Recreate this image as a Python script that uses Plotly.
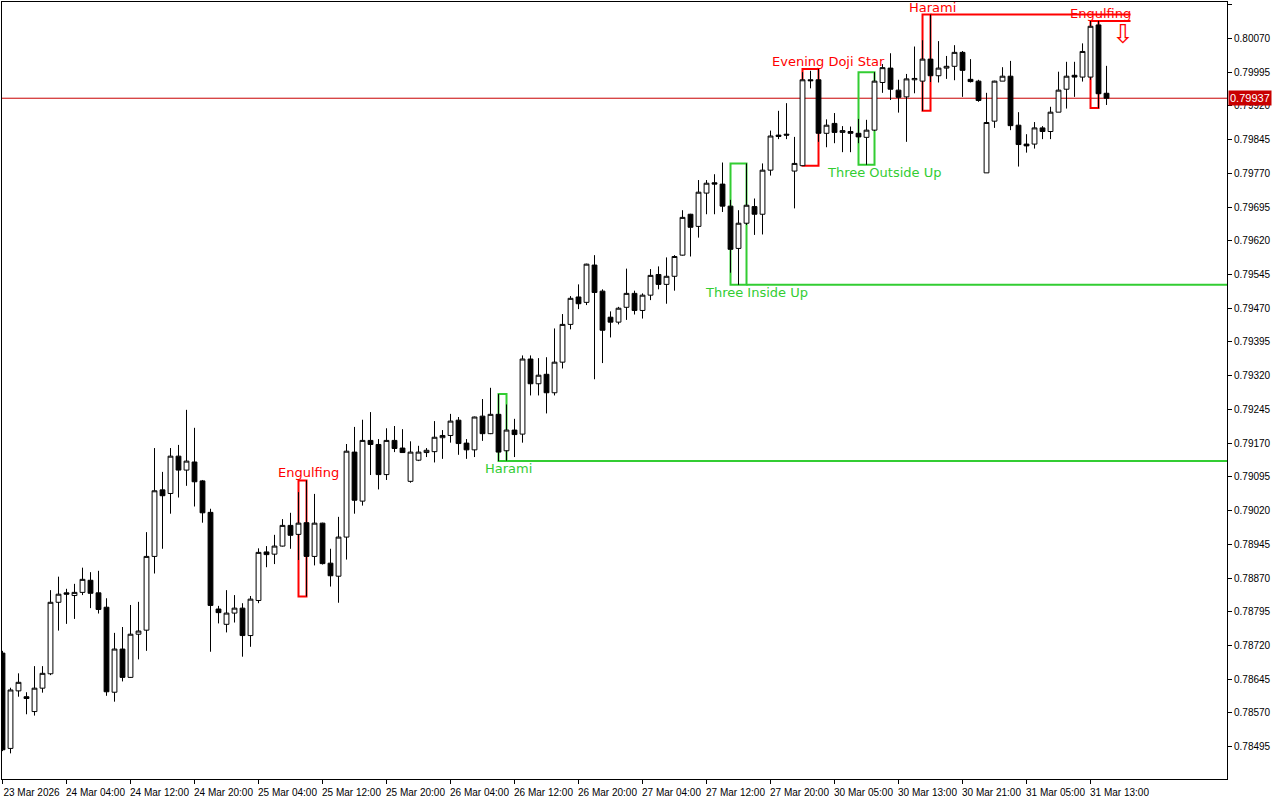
import plotly.graph_objects as go

# ---------------- data (H1 candles, 23 Mar 2026 20:00 -> 31 Mar 2026 15:00) ----------------
opens = [0.78703, 0.78491, 0.78619, 0.78606, 0.78573, 0.78625, 0.78657, 0.78816, 0.78837, 0.78831,
         0.78838, 0.78865, 0.78837, 0.78805, 0.78616, 0.78712, 0.78649, 0.78745, 0.78754, 0.78918,
         0.79066, 0.79058, 0.79141, 0.79110, 0.79128, 0.79086, 0.79016, 0.78801, 0.78767, 0.78792,
         0.78803, 0.78742, 0.78820, 0.78928, 0.78923, 0.78941, 0.78987, 0.78967, 0.78993, 0.78918,
         0.78992, 0.78903, 0.78874, 0.78961, 0.79150, 0.79041, 0.79176, 0.79167, 0.79100, 0.79176,
         0.79159, 0.79085, 0.79132, 0.79149, 0.79151, 0.79182, 0.79187, 0.79221, 0.79170, 0.79155,
         0.79230, 0.79191, 0.79234, 0.79153, 0.79199, 0.79190, 0.79357, 0.79302, 0.79323, 0.79282,
         0.79350, 0.79434, 0.79495, 0.79483, 0.79566, 0.79508, 0.79450, 0.79439, 0.79472, 0.79503,
         0.79465, 0.79499, 0.79545, 0.79523, 0.79541, 0.79588, 0.79679, 0.79652, 0.79726, 0.79749,
         0.79746, 0.79697, 0.79603, 0.79659, 0.79696, 0.79679, 0.79777, 0.79855, 0.79857, 0.79775,
         0.79787, 0.79978, 0.79978, 0.79859, 0.79881, 0.79861, 0.79863, 0.79859, 0.79850, 0.79866,
         0.79972, 0.80004, 0.79955, 0.79940, 0.79978, 0.79975, 0.80024, 0.79987, 0.80004, 0.80008,
         0.80039, 0.79979, 0.79975, 0.79771, 0.79886, 0.79975, 0.79986, 0.79877, 0.79835, 0.79835,
         0.79871, 0.79863, 0.79906, 0.79957, 0.79988, 0.79984, 0.79984, 0.80100, 0.79948]
highs = [0.78708, 0.78626, 0.78658, 0.78616, 0.78674, 0.78674, 0.78843, 0.78873, 0.78846, 0.78857,
         0.78893, 0.78883, 0.78886, 0.78825, 0.78748, 0.78761, 0.78810, 0.78817, 0.78972, 0.79159,
         0.79106, 0.79159, 0.79166, 0.79244, 0.79204, 0.79088, 0.79024, 0.78808, 0.78843, 0.78832,
         0.78814, 0.78830, 0.78936, 0.78941, 0.78966, 0.79001, 0.79015, 0.79061, 0.79087, 0.79057,
         0.78993, 0.78935, 0.79006, 0.79168, 0.79206, 0.79222, 0.79239, 0.79179, 0.79203, 0.79208,
         0.79201, 0.79174, 0.79164, 0.79159, 0.79219, 0.79199, 0.79235, 0.79228, 0.79179, 0.79229,
         0.79268, 0.79293, 0.79279, 0.79256, 0.79224, 0.79365, 0.79365, 0.79359, 0.79361, 0.79425,
         0.79457, 0.79497, 0.79523, 0.79569, 0.79588, 0.79512, 0.79463, 0.79473, 0.79558, 0.79509,
         0.79503, 0.79557, 0.79563, 0.79583, 0.79588, 0.79688, 0.79680, 0.79755, 0.79755, 0.79768,
         0.79794, 0.79711, 0.79688, 0.79792, 0.79714, 0.79792, 0.79865, 0.79909, 0.79926, 0.79851,
         0.79995, 0.79998, 0.80002, 0.79890, 0.79904, 0.79875, 0.79874, 0.79891, 0.79889, 0.79995,
         0.80013, 0.80037, 0.79978, 0.79991, 0.80052, 0.80066, 0.80123, 0.80064, 0.80031, 0.80055,
         0.80042, 0.80024, 0.79978, 0.79949, 0.79976, 0.80006, 0.80020, 0.79906, 0.79857, 0.79884,
         0.79875, 0.79918, 0.79996, 0.80018, 0.80018, 0.80059, 0.80109, 0.80109, 0.80009]
lows = [0.78485, 0.78480, 0.78606, 0.78567, 0.78564, 0.78615, 0.78654, 0.78753, 0.78768, 0.78779,
        0.78832, 0.78803, 0.78791, 0.78608, 0.78595, 0.78640, 0.78648, 0.78689, 0.78708, 0.78880,
        0.78935, 0.79013, 0.79049, 0.79075, 0.79029, 0.78993, 0.78706, 0.78769, 0.78749, 0.78771,
        0.78695, 0.78717, 0.78814, 0.78894, 0.78901, 0.78940, 0.78935, 0.78910, 0.78829, 0.78898,
        0.78900, 0.78851, 0.78815, 0.78911, 0.79013, 0.79031, 0.79099, 0.79067, 0.79088, 0.79150,
        0.79149, 0.79082, 0.79130, 0.79139, 0.79127, 0.79135, 0.79171, 0.79144, 0.79135, 0.79139,
        0.79175, 0.79190, 0.79130, 0.79131, 0.79139, 0.79171, 0.79276, 0.79276, 0.79236, 0.79276,
        0.79336, 0.79423, 0.79468, 0.79477, 0.79312, 0.79348, 0.79405, 0.79434, 0.79444, 0.79456,
        0.79447, 0.79488, 0.79512, 0.79480, 0.79509, 0.79587, 0.79585, 0.79627, 0.79679, 0.79679,
        0.79684, 0.79549, 0.79522, 0.79655, 0.79633, 0.79634, 0.79765, 0.79846, 0.79846, 0.79692,
        0.79787, 0.79959, 0.79840, 0.79828, 0.79837, 0.79817, 0.79817, 0.79837, 0.79789, 0.79864,
        0.79949, 0.79933, 0.79905, 0.79840, 0.79948, 0.79909, 0.79973, 0.79972, 0.79980, 0.79977,
        0.79940, 0.79972, 0.79929, 0.79771, 0.79871, 0.79975, 0.79866, 0.79785, 0.79816, 0.79825,
        0.79846, 0.79846, 0.79906, 0.79914, 0.79940, 0.79974, 0.79978, 0.79915, 0.79922]
closes = [0.78488, 0.78621, 0.78638, 0.78602, 0.78625, 0.78658, 0.78816, 0.78834, 0.78834, 0.78838,
          0.78867, 0.78836, 0.78800, 0.78617, 0.78712, 0.78649, 0.78745, 0.78752, 0.78918, 0.79064,
          0.79053, 0.79141, 0.79110, 0.79130, 0.79084, 0.79015, 0.78809, 0.78793, 0.78792, 0.78803,
          0.78742, 0.78823, 0.78927, 0.78922, 0.78941, 0.78987, 0.78965, 0.78992, 0.78918, 0.78992,
          0.78902, 0.78875, 0.78961, 0.79152, 0.79043, 0.79176, 0.79167, 0.79100, 0.79176, 0.79158,
          0.79149, 0.79150, 0.79150, 0.79154, 0.79183, 0.79187, 0.79219, 0.79169, 0.79155, 0.79228,
          0.79191, 0.79234, 0.79150, 0.79199, 0.79189, 0.79357, 0.79302, 0.79321, 0.79282, 0.79350,
          0.79434, 0.79492, 0.79480, 0.79568, 0.79505, 0.79421, 0.79439, 0.79470, 0.79503, 0.79465,
          0.79499, 0.79543, 0.79523, 0.79541, 0.79585, 0.79672, 0.79650, 0.79728, 0.79748, 0.79746,
          0.79697, 0.79601, 0.79659, 0.79699, 0.79679, 0.79777, 0.79853, 0.79852, 0.79855, 0.79792,
          0.79978, 0.79976, 0.79859, 0.79877, 0.79861, 0.79865, 0.79859, 0.79851, 0.79866, 0.79975,
          0.80005, 0.79957, 0.79939, 0.79980, 0.79981, 0.80024, 0.79987, 0.80004, 0.80008, 0.80039,
          0.79999, 0.79974, 0.79932, 0.79883, 0.79975, 0.79986, 0.79876, 0.79834, 0.79831, 0.79871,
          0.79863, 0.79906, 0.79955, 0.79986, 0.79984, 0.80041, 0.80097, 0.79947, 0.79937]
last_price = 0.79937

tick_index = [0, 8, 16, 24, 32, 40, 48, 56, 64, 72, 80, 88, 96, 104, 112, 120, 128, 136]
tick_labels = ["23 Mar 2026", "24 Mar 04:00", "24 Mar 12:00", "24 Mar 20:00", "25 Mar 04:00",
               "25 Mar 12:00", "25 Mar 20:00", "26 Mar 04:00", "26 Mar 12:00", "26 Mar 20:00",
               "27 Mar 04:00", "27 Mar 12:00", "27 Mar 20:00", "30 Mar 05:00", "30 Mar 13:00",
               "30 Mar 21:00", "31 Mar 05:00", "31 Mar 13:00"]
price_ticks = [0.78495, 0.78570, 0.78645, 0.78720, 0.78795, 0.78870, 0.78945, 0.79020, 0.79095,
               0.79170, 0.79245, 0.79320, 0.79395, 0.79470, 0.79545, 0.79620, 0.79695, 0.79770,
               0.79845, 0.79920, 0.79995, 0.80070, 0.80145]

pattern_names = ["Engulfing", "Harami", "Three Inside Up", "Evening Doji Star",
                 "Three Outside Up", "Harami", "Engulfing"]
pattern_first = [37, 62, 91, 100, 107, 115, 136]
pattern_last = [38, 63, 93, 102, 109, 116, 137]
pattern_bullish = [False, True, True, False, True, False, False]

# ---------------- styling ----------------
BULL = "#32cd32"
BEAR = "#ff0000"
PRICE_RED = "#c80000"
AX_FONT = dict(family="Liberation Sans, Arial, sans-serif", size=10, color="black")
LBL_FONT = "DejaVu Sans, Verdana, sans-serif"

n = len(closes)
x = list(range(n))
x_min, x_max = -0.0625, 153.06
y_min, y_max = 0.78423, 0.80151

fig = go.Figure()
fig.add_trace(go.Candlestick(
    x=x, open=opens, high=highs, low=lows, close=closes,
    increasing=dict(fillcolor="white", line=dict(color="black", width=1)),
    decreasing=dict(fillcolor="black", line=dict(color="black", width=1)),
    whiskerwidth=0, hoverinfo="skip", showlegend=False,
))

shapes = []
annotations = []
for name, a, b, bull in zip(pattern_names, pattern_first, pattern_last, pattern_bullish):
    hi = max(highs[a:b + 1])
    lo = min(lows[a:b + 1])
    col = BULL if bull else BEAR
    shapes.append(dict(type="rect", xref="x", yref="y", x0=a, x1=b, y0=lo, y1=hi,
                       line=dict(color=col, width=2), fillcolor="rgba(0,0,0,0)", layer="below"))
    # level line if still unbroken
    if bull:
        rest = lows[b + 1:]
        if rest and min(rest) >= lo:
            shapes.append(dict(type="line", xref="x", yref="y", x0=b, x1=x_max, y0=lo, y1=lo,
                               line=dict(color=col, width=2), layer="below"))
    else:
        rest = highs[b + 1:]
        if rest and max(rest) <= hi:
            shapes.append(dict(type="line", xref="x", yref="y", x0=b, x1=n - 1 + 3, y0=hi, y1=hi,
                               line=dict(color=col, width=2), layer="below"))
    span = b - a + 1
    annotations.append(dict(
        x=(a + b) / 2, y=lo if bull else hi, xref="x", yref="y",
        text=name, showarrow=False,
        xanchor="center", yanchor="top" if bull else "bottom",
        xshift=6 if span == 2 else 17.5, yshift=2 if bull else -2,
        font=dict(family=LBL_FONT, size=13, color=col),
    ))

# current price line
shapes.append(dict(type="line", xref="paper", yref="y", x0=0, x1=1, y0=last_price, y1=last_price,
                   line=dict(color=PRICE_RED, width=1), layer="below"))
annotations.append(dict(
    x=1, y=last_price, xref="paper", yref="y", xanchor="left", yanchor="middle",
    text=f"{last_price:.5f}", showarrow=False, bgcolor=PRICE_RED, borderpad=1, xshift=1,
    font=dict(family="Liberation Sans, Arial, sans-serif", size=11, color="white"),
))
# sell signal arrow
annotations.append(dict(
    x=n + 1, y=0.80080, xref="x", yref="y", text="\u21e9", showarrow=False,
    font=dict(family=LBL_FONT, size=26, color=BEAR),
))

fig.update_layout(
    width=1280, height=800, autosize=False,
    margin=dict(l=2, r=53, t=2, b=21),
    paper_bgcolor="white", plot_bgcolor="white",
    boxgap=0.4, boxgroupgap=0,
    shapes=shapes, annotations=annotations,
    showlegend=False,
    xaxis=dict(
        range=[x_min, x_max], type="linear", rangeslider=dict(visible=False),
        tickmode="array", tickvals=tick_index, ticktext=tick_labels,
        ticks="outside", ticklen=4, tickcolor="black", ticklabelshift=29,
        showline=True, linecolor="black", linewidth=1, mirror=True,
        showgrid=False, zeroline=False, tickfont=AX_FONT,
    ),
    yaxis=dict(
        range=[y_min, y_max], side="right",
        tickmode="array", tickvals=price_ticks, ticktext=[f"{v:.5f}" for v in price_ticks],
        ticks="outside", ticklen=4, tickcolor="black",
        showline=True, linecolor="black", linewidth=1, mirror=True,
        showgrid=False, zeroline=False, tickfont=AX_FONT,
    ),
)

fig.write_html("out.html", config={"displayModeBar": False},
               post_script="document.body.style.margin='0';")
